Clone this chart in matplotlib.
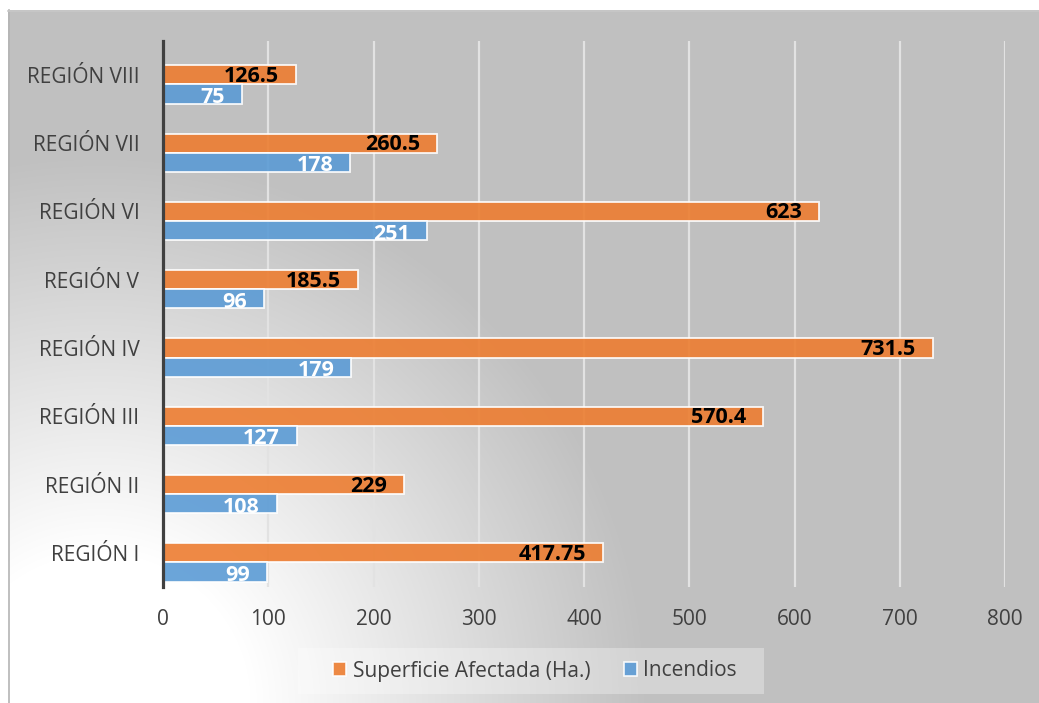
import numpy as np
import matplotlib
matplotlib.use('Agg')
import matplotlib.pyplot as plt
from matplotlib.patches import Rectangle, Patch

plt.rcParams['font.family'] = ['Open Sans', 'DejaVu Sans']

# datos
regiones = ['REGIÓN I', 'REGIÓN II', 'REGIÓN III', 'REGIÓN IV',
            'REGIÓN V', 'REGIÓN VI', 'REGIÓN VII', 'REGIÓN VIII']
superficie = [417.75, 229, 570.4, 731.5, 185.5, 623, 260.5, 126.5]
incendios = [99, 108, 127, 179, 96, 251, 178, 75]
etiquetas_sup = ['417.75', '229', '570.4', '731.5', '185.5', '623', '260.5', '126.5']
etiquetas_inc = ['99', '108', '127', '179', '96', '251', '178', '75']
xticks = [0, 100, 200, 300, 400, 500, 600, 700, 800]

W, H = 1039, 703
fig = plt.figure(figsize=(W / 100, H / 100), dpi=100)
fig.patch.set_facecolor('white')

# fondo con degradado radial (zona clara abajo a la izquierda)
xx, yy = np.meshgrid(np.arange(W), np.arange(H))
r = np.sqrt((xx - 100.0) ** 2 + (yy - 703.0) ** 2)
t = np.clip((r - 150.0) / 400.0, 0, 1)
val = (255 - 63 * t) / 255.0
img = np.dstack([val, val, val, np.ones_like(val)])
img[:10, :, :3] = 1.0
img[:, :8, :3] = 1.0
fig.figimage(img, xo=0, yo=0, origin='upper', zorder=-10)
fig.add_artist(plt.Line2D([8.5 / W, 8.5 / W], [0, 1 - 10 / H], color='#b4b4b4', lw=1.2))
fig.add_artist(plt.Line2D([8 / W, 1], [1 - 10.5 / H, 1 - 10.5 / H], color='#c8c8c8', lw=1.2))

ax = fig.add_axes([163 / W, 1 - 587 / H, (1005 - 163) / W, (587 - 40.7) / H])
ax.set_facecolor('none')

y = np.arange(len(regiones))
h = 0.28
bars_sup = ax.barh(y, superficie, height=h, color='#ED7D31', alpha=0.9,
                   edgecolor='white', linewidth=1.3, zorder=3)
bars_inc = ax.barh(y - h, incendios, height=h, color='#5B9BD5', alpha=0.9,
                   edgecolor='white', linewidth=1.3, zorder=3)

for b, v, lab in zip(bars_sup, superficie, etiquetas_sup):
    ax.annotate(lab, xy=(v, b.get_y() + h / 2), xytext=(-12.2, -5.0),
                textcoords='offset points', ha='right', va='baseline',
                fontsize=15.5, fontweight='bold', color='black', zorder=5)
for b, v, lab in zip(bars_inc, incendios, etiquetas_inc):
    t_ = ax.annotate(lab, xy=(v, b.get_y() + h / 2), xytext=(-12.2, -6.5),
                     textcoords='offset points', ha='right', va='baseline',
                     fontsize=15.5, fontweight='bold', color='white', zorder=5)
    t_.set_clip_path(b)

ax.set_xlim(0, 800)
ax.set_ylim(-0.5, 7.5)
ax.set_xticks(xticks)
ax.set_yticks(y)
ax.set_yticklabels(regiones)
ax.grid(axis='x', color='#e2e2e2', linewidth=1.6, zorder=1)
ax.set_axisbelow(True)
for s in ['top', 'right', 'bottom']:
    ax.spines[s].set_visible(False)
ax.spines['left'].set_color('#404040')
ax.spines['left'].set_linewidth(2.3)
ax.spines['left'].set_zorder(6)
ax.tick_params(axis='y', length=0, pad=17, labelsize=15, labelcolor='#404040')
ax.tick_params(axis='x', length=0, pad=16, labelsize=15, labelcolor='#404040')

# caja de la leyenda
fig.add_artist(Rectangle((298 / W, 1 - 694 / H), 466 / W, 46 / H,
                         transform=fig.transFigure, facecolor='white',
                         alpha=0.3, edgecolor='none'))
handles = [Patch(facecolor='#ED7D31', alpha=0.9, edgecolor='white', linewidth=1.2),
           Patch(facecolor='#5B9BD5', alpha=0.9, edgecolor='white', linewidth=1.2)]
fig.legend(handles, ['Superficie Afectada (Ha.)', 'Incendios'], ncol=2,
           loc='center', bbox_to_anchor=(535 / W, 1 - 671 / H), frameon=False,
           fontsize=15, labelcolor='#404040', handlelength=0.65, handleheight=0.65,
           handletextpad=0.3, columnspacing=1.6)

fig.savefig('out.png', dpi=100)
